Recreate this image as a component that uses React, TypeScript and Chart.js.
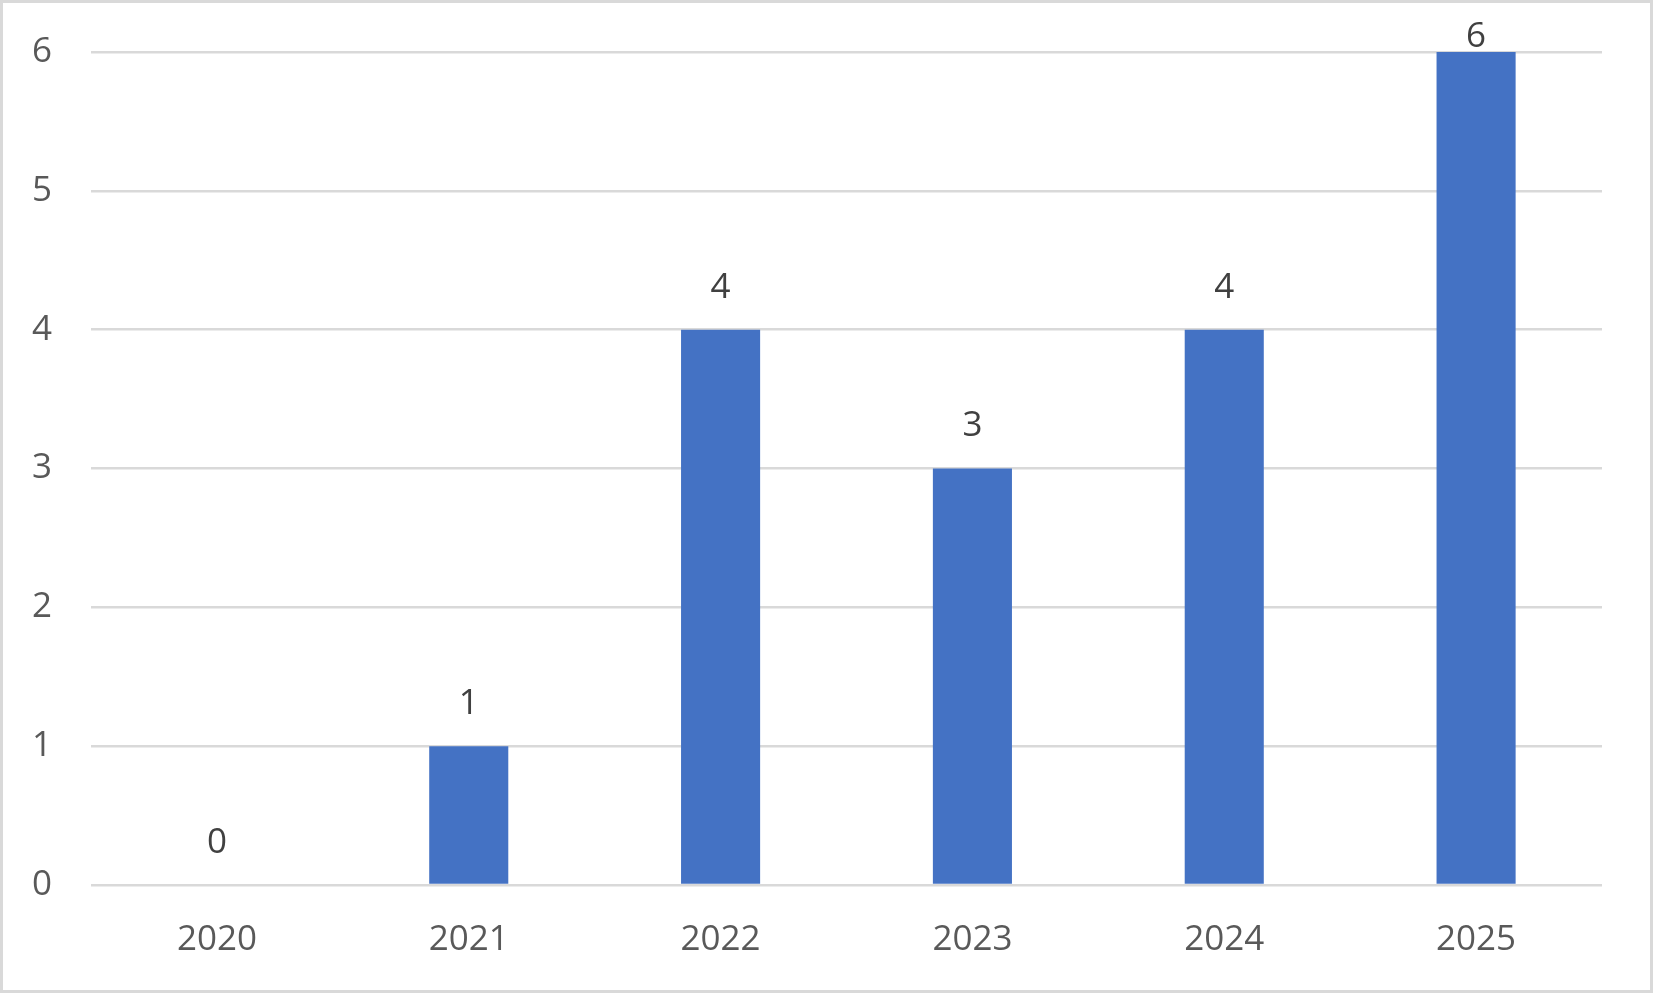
import React, { useEffect, useRef } from "react";
import { Chart, registerables, Plugin } from "chart.js";

Chart.register(...registerables);

const years = ["2020", "2021", "2022", "2023", "2024", "2025"];
const counts = [0, 1, 4, 3, 4, 6];
const yTicks = [0, 1, 2, 3, 4, 5, 6];

const FONT = "'Open Sans', 'Noto Sans', sans-serif";

// draws value labels above each bar, kept inside the canvas at the top
const barLabels: Plugin<"bar"> = {
  id: "barLabels",
  afterDatasetsDraw(chart) {
    const ctx = chart.ctx;
    const meta = chart.getDatasetMeta(0);
    ctx.save();
    ctx.font = `35px ${FONT}`;
    ctx.fillStyle = "#404040";
    ctx.textAlign = "center";
    ctx.textBaseline = "middle";
    meta.data.forEach((bar, i) => {
      const y = Math.max(bar.y - 42, 34);
      ctx.fillText(String(counts[i]), bar.x, y);
    });
    ctx.restore();
  },
};

const App = () => {
  const canvasRef = useRef<HTMLCanvasElement>(null);

  useEffect(() => {
    if (!canvasRef.current) return;
    const chart = new Chart(canvasRef.current, {
      type: "bar",
      data: {
        labels: years,
        datasets: [
          {
            data: counts,
            backgroundColor: "#4472C4",
            categoryPercentage: 1,
            barPercentage: 0.314,
          },
        ],
      },
      options: {
        animation: false,
        responsive: true,
        maintainAspectRatio: false,
        layout: { padding: { top: 49, right: 48, left: 0, bottom: 0 } },
        plugins: {
          legend: { display: false },
          tooltip: { enabled: false },
        },
        scales: {
          x: {
            grid: { display: false },
            border: { display: false },
            ticks: {
              color: "#595959",
              font: { size: 35, family: FONT },
              padding: 26,
            },
            afterFit: (scale) => {
              scale.height = 105;
            },
          },
          y: {
            min: 0,
            max: 6,
            afterBuildTicks: (scale) => {
              scale.ticks = yTicks.map((v) => ({ value: v }));
            },
            grid: { color: "#d9d9d9", lineWidth: 2.6, drawTicks: false },
            border: { display: false },
            ticks: {
              color: "#595959",
              font: { size: 35, family: FONT },
              padding: 39,
            },
            afterFit: (scale) => {
              scale.width = 88;
              scale.paddingTop = 0;
              scale.paddingBottom = 0;
            },
          },
        },
      },
      plugins: [barLabels],
    });
    return () => chart.destroy();
  }, []);

  return (
    <div
      style={{
        position: "absolute",
        left: 0,
        top: 0,
        width: 1653,
        height: 993,
        boxSizing: "border-box",
        border: "3px solid #d9d9d9",
        background: "#ffffff",
      }}
    >
      <canvas ref={canvasRef} />
    </div>
  );
};

export default App;
